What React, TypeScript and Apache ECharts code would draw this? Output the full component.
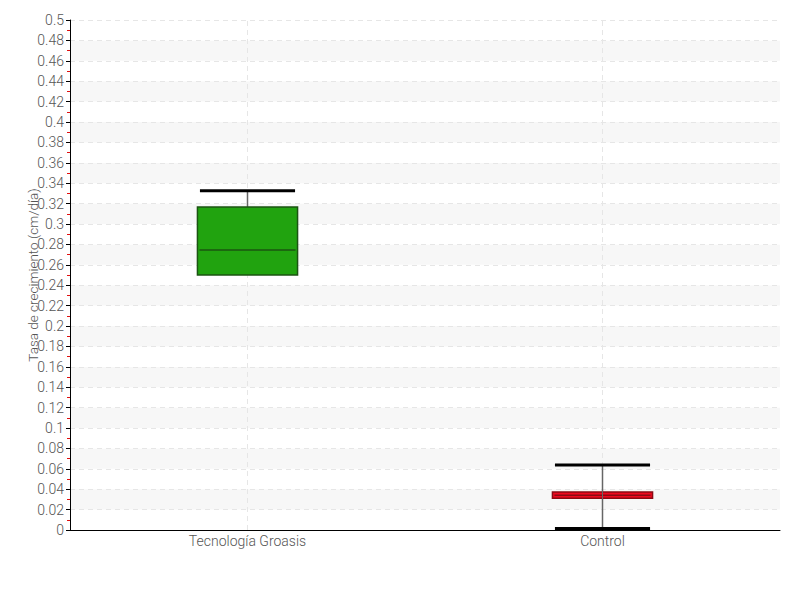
import React, { useEffect, useRef } from "react";
import * as echarts from "echarts";

// Growth-rate distribution per treatment
const categories = ["Tecnología Groasis", "Control"];
// [min, Q1, median, Q3, max] in cm/día
const groasisStats = [0.25, 0.25, 0.2745, 0.3167, 0.3325];
const controlStats = [0.0015, 0.0312, 0.034, 0.0372, 0.0638];
const boxFill = ["#21a30f", "#f0081f"];
const boxEdge = ["#1b5412", "#8a0a14"];

const FONT = "Roboto, 'Noto Sans', sans-serif";

export default function App() {
  const ref = useRef<HTMLDivElement>(null);

  useEffect(() => {
    if (!ref.current) return;
    const chart = echarts.init(ref.current, undefined, { renderer: "svg" });
    const rows = [groasisStats, controlStats].map((s, i) => [i, ...s]);

    chart.setOption({
      animation: false,
      grid: { left: 70, right: 20, top: 20, bottom: 70 },
      xAxis: {
        type: "category",
        data: categories,
        axisLine: { lineStyle: { color: "#000", width: 1 } },
        axisTick: { show: false },
        axisLabel: { color: "#555", fontSize: 14, fontWeight: 300, fontFamily: FONT, margin: 4 },
        splitLine: { show: false },
      },
      yAxis: {
        type: "value",
        min: 0,
        max: 0.5,
        interval: 0.02,
        name: "Tasa de crecimiento (cm/día)",
        nameLocation: "middle",
        nameGap: 30,
        nameMoveOverlap: false,
        nameTextStyle: { color: "#555", fontSize: 13.5, fontWeight: 300, fontFamily: FONT },
        axisLine: { show: true, lineStyle: { color: "#000", width: 1 } },
        axisTick: { show: true, length: 4, lineStyle: { color: "#000" } },
        minorTick: { show: true, splitNumber: 2, length: 3, lineStyle: { color: "#e01010" } },
        axisLabel: { color: "#555", fontSize: 14, fontWeight: 300, fontFamily: FONT, margin: 6 },
        splitLine: { show: true, lineStyle: { color: "#e6e6e6", type: [5, 4] } },
        splitArea: { show: true, areaStyle: { color: ["#ffffff", "#f7f7f7"] } },
      },
      series: [
        {
          type: "custom",
          data: rows,
          encode: { x: 0, y: [1, 2, 3, 4, 5] },
          renderItem: (params: any, api: any) => {
            const idx = api.value(0);
            const [mn, q1, md, q3, mx] = [1, 2, 3, 4, 5].map((k) => api.value(k));
            const cx = api.coord([idx, 0])[0];
            const y = (v: number) => api.coord([idx, v])[1];
            const bw = api.size([1, 0])[0] * 0.282;
            const cw = bw * 0.95;
            const children: any[] = [];
            // vertical dashed guide through the category centre
            children.push({
              type: "line",
              shape: { x1: cx, y1: y(0), x2: cx, y2: y(0.5) },
              style: { stroke: "#e6e6e6", lineWidth: 1, lineDash: [5, 4] },
            });
            const whisker = { stroke: "#666", lineWidth: 1.5 };
            if (mx > q3)
              children.push({ type: "line", shape: { x1: cx, y1: y(q3), x2: cx, y2: y(mx) }, style: whisker });
            if (q1 > mn)
              children.push({ type: "line", shape: { x1: cx, y1: y(mn), x2: cx, y2: y(q1) }, style: whisker });
            children.push({
              type: "rect",
              shape: { x: cx - bw / 2, y: y(q3), width: bw, height: y(q1) - y(q3) },
              style: { fill: boxFill[idx], stroke: boxEdge[idx], lineWidth: 1.5 },
            });
            children.push({
              type: "line",
              shape: { x1: cx - bw / 2 + 2, y1: y(md), x2: cx + bw / 2 - 2, y2: y(md) },
              style: { stroke: boxEdge[idx], lineWidth: 1.5 },
            });
            if (idx === 1)
              children.push({ type: "line", shape: { x1: cx, y1: y(mn), x2: cx, y2: y(mx) }, style: { stroke: "#666", lineWidth: 1 } });
            children.push({
              type: "line",
              shape: { x1: cx - cw / 2, y1: y(mx), x2: cx + cw / 2, y2: y(mx) },
              style: { stroke: "#000", lineWidth: 3 },
            });
            if (mn < q1)
              children.push({
                type: "line",
                shape: { x1: cx - cw / 2, y1: y(mn), x2: cx + cw / 2, y2: y(mn) },
                style: { stroke: "#000", lineWidth: 3 },
              });
            return { type: "group", children };
          },
          z: 3,
        },
      ],
    });

    return () => chart.dispose();
  }, []);

  return <div ref={ref} style={{ width: 800, height: 600, position: "absolute", left: 0, top: 0 }} />;
}
